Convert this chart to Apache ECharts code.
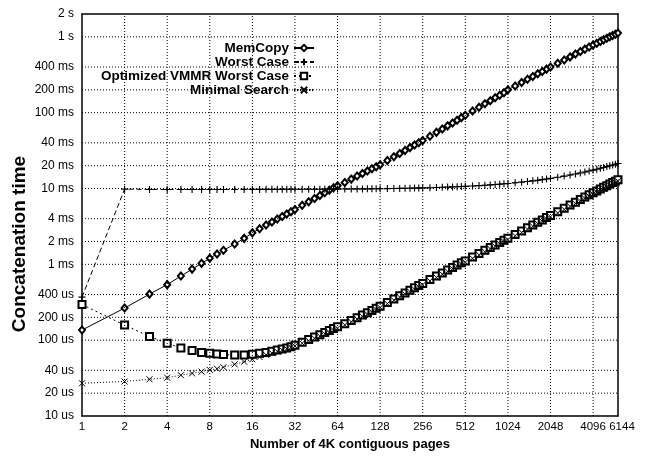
<!DOCTYPE html>
<html><head><meta charset="utf-8">
<script src="https://cdn.jsdelivr.net/npm/echarts@6/dist/echarts.min.js"></script>
<style>html,body{margin:0;padding:0;background:#fff}#c{width:652px;height:458px}</style>
</head><body><div id="c"></div>
<script>
const pages = [1,2,3,4,5,6,7,8,9,10,12,14,16,18,20,22,24,26,28,30,32,
  36,40,44,48,52,56,60,64,72,80,88,96,104,112,120,128,
  144,160,176,192,208,224,240,256,288,320,352,384,416,448,480,512,
  576,640,704,768,832,896,960,1024,1152,1280,1408,1536,1664,1792,1920,2048,
  2304,2560,2816,3072,3328,3584,3840,4096,4352,4608,4864,5120,5376,5632,5888,6144];

// times in microseconds
const memCopy = [136,265,405,540,700,865,1030,1200,1370,1530,1850,2200,2600,2950,3300,3620,3950,4280,4600,4950,5300,
  6000,6700,7400,8100,8800,9500,10200,10900,12000,13300,14600,15800,17000,18200,19400,20600,
  23400,26200,29000,31800,34600,37400,40200,43000,49000,55000,61000,67000,73000,79500,86000,92500,
  105000,118000,131000,144000,157000,170000,183000,200000,225000,250000,275000,300000,325000,350000,375000,400000,
  448000,496000,544000,592000,640000,688000,736000,780000,825000,868000,912000,955000,1000000,1040000,1080000,1120000];

const worstCase = [370,9800,9710,9710,9710,9710,9715,9715,9720,9720,9720,9725,9730,9735,9740,9740,9745,9750,9755,9755,9760,
  9770,9775,9785,9790,9800,9805,9815,9820,9835,9850,9865,9880,9900,9915,9930,9945,
  9975,10005,10035,10065,10095,10125,10155,10185,10245,10310,10370,10430,10490,10550,10610,10675,
  10795,10915,11040,11160,11280,11400,11525,11645,11890,12130,12375,12620,12860,13105,13350,13590,
  14080,14565,15050,15535,16025,16510,16995,17480,17970,18455,18940,19430,19915,20400,20885,21375];

const optVmmrWorst = [295,158,112,91,79,73,69,67,65.5,64.5,63.5,63.5,65,67,69,71.5,74,76.5,79,82,86,
  94,102,110,118,126,134,142,150,165,182,198,214,230,247,264,281,
  315,350,385,420,455,490,525,560,630,700,770,840,910,980,1050,1110,
  1250,1390,1530,1670,1800,1940,2080,2200,2480,2750,3030,3300,3580,3850,4130,4400,
  4950,5500,6050,6600,7150,7700,8250,8800,9300,9850,10400,10900,11450,12000,12500,13000];

const minimalSearch = [27,28.5,30.5,32,34.5,36.5,38.5,40.5,42,44,48,52,56,60,64,67.5,71,74,77,80.5,84,
  91,98,106,113,121,128,136,144,159,175,190,206,221,237,253,270,
  303,337,370,404,437,471,505,538,605,672,740,808,875,942,1010,1068,
  1200,1335,1470,1605,1730,1865,2000,2115,2385,2640,2910,3170,3440,3700,3970,4230,
  4755,5285,5810,6340,6870,7400,7930,8460,8940,9470,10000,10480,11010,11540,12020,12500];

const xTicks = [1,2,4,8,16,32,64,128,256,512,1024,2048,4096,6144];
const yTicks = [10,20,40,100,200,400,1000,2000,4000,10000,20000,40000,100000,200000,400000,1000000,2000000];
const yTickLabels = ['10 us','20 us','40 us','100 us','200 us','400 us','1 ms','2 ms','4 ms','10 ms','20 ms','40 ms','100 ms','200 ms','400 ms','1 s','2 s'];

const seriesNames = ['MemCopy','Worst Case','Optimized VMMR Worst Case','Minimal Search'];

const pair = arr => pages.map((p, i) => [p, arr[i]]);
const FONT = 'Liberation Sans, Arial, sans-serif';

const chart = echarts.init(document.getElementById('c'), null, {renderer: 'canvas'});

const X_MIN = xTicks[0], X_MAX = xTicks[xTicks.length - 1];
const Y_MIN = yTicks[0], Y_MAX = yTicks[yTicks.length - 1];
const baseX = {type: 'log', logBase: 2, min: X_MIN, max: X_MAX, gridIndex: 0};
const baseY = {type: 'log', logBase: 10, min: Y_MIN, max: Y_MAX, gridIndex: 0};

// grid lines as plain two-point line series through the axes' scales (drawn on top layer)
const gridSeries = [];
xTicks.slice(1, -1).forEach(v => gridSeries.push({
  name: 'gx' + v, type: 'line', data: [[v, Y_MIN], [v, Y_MAX]], z: 10, zlevel: 0,
  showSymbol: false, symbolSize: 0, color: '#000',
  lineStyle: {color: '#000', width: 1, type: [1, 2], opacity: 1}
}));
yTicks.slice(1, -1).forEach(v => gridSeries.push({
  name: 'gy' + v, type: 'line', data: [[X_MIN, v], [X_MAX, v]], z: 10, zlevel: 0,
  showSymbol: false, symbolSize: 0, color: '#000',
  lineStyle: {color: '#000', width: 1, type: [1, 2], opacity: 1}
}));

const xLabelStyle = {fontFamily: FONT, fontSize: 11.5, color: '#000', margin: 5};

chart.setOption({
  animation: false,
  backgroundColor: '#fff',
  textStyle: {fontFamily: FONT},
  grid: {left: 82, right: 34, top: 14, bottom: 42, show: false},
  tooltip: {show: false},
  legend: {
    orient: 'vertical', align: 'right', right: 337, top: 41, z: 20,
    itemWidth: 20, itemHeight: 8, itemGap: 0,
    padding: 0,
    textStyle: {fontFamily: FONT, fontWeight: 'bold', fontSize: 13.5, lineHeight: 13.5, color: '#000'},
    data: seriesNames
  },
  xAxis: [
    Object.assign({}, baseX, {
      position: 'bottom',
      name: 'Number of 4K contiguous pages', nameLocation: 'middle', nameGap: 21,
      nameTextStyle: {fontFamily: FONT, fontWeight: 'bold', fontSize: 13, color: '#000'},
      axisLine: {show: true, lineStyle: {color: '#000', width: 1.5}},
      axisTick: {show: false},
      axisLabel: Object.assign({customValues: xTicks.slice(0, -1), interval: 0, showMinLabel: true, showMaxLabel: true,
        formatter: v => String(Math.round(v))}, xLabelStyle),
      splitLine: {show: false}
    }),
    Object.assign({}, baseX, {
      position: 'top',
      axisLine: {show: true, lineStyle: {color: '#000', width: 1.5}},
      axisTick: {show: false},
      axisLabel: {show: false},
      splitLine: {show: false}
    }),
    Object.assign({}, baseX, {
      position: 'bottom', offset: 0,
      axisLine: {show: false},
      axisTick: {show: false},
      axisLabel: Object.assign({customValues: xTicks.slice(-1), interval: 0, showMinLabel: false, showMaxLabel: true,
        padding: [0, 0, 0, 8], formatter: v => String(Math.round(v))}, xLabelStyle),
      splitLine: {show: false}
    })
  ],
  yAxis: [
    Object.assign({}, baseY, {
      position: 'left',
      axisLine: {show: true, lineStyle: {color: '#000', width: 1.5}},
      axisTick: {show: false},
      axisLabel: {customValues: yTicks, interval: 0, showMinLabel: true, showMaxLabel: true,
        fontFamily: FONT, fontSize: 12, color: '#000', margin: 8,
        formatter: v => {
          let best = 0, bd = Infinity;
          yTicks.forEach((t, i) => { const d = Math.abs(Math.log(t) - Math.log(v)); if (d < bd) { bd = d; best = i; } });
          return yTickLabels[best];
        }},
      splitLine: {show: false}
    }),
    Object.assign({}, baseY, {
      position: 'right',
      axisLine: {show: true, lineStyle: {color: '#000', width: 1.5}},
      axisTick: {show: false},
      axisLabel: {show: false},
      splitLine: {show: false}
    })
  ],
  graphic: [{
    type: 'text', x: 20, y: 244, rotation: Math.PI / 2,
    style: {text: 'Concatenation time', fontFamily: FONT, fontWeight: 'bold', fontSize: 19, fill: '#000',
      align: 'center', verticalAlign: 'middle'}
  }],
  series: gridSeries.concat([
    {
      name: seriesNames[0], type: 'line', data: pair(memCopy), color: '#000', z: 5,
      symbol: 'emptyDiamond', symbolSize: [6, 7], showAllSymbol: true,
      lineStyle: {color: '#000', width: 1, type: 'solid'},
      itemStyle: {color: '#000', borderColor: '#000', borderWidth: 1}
    },
    {
      name: seriesNames[1], type: 'line', data: pair(worstCase), color: '#000', z: 5,
      symbol: 'path://M5,0L5,10M0,5L10,5', symbolSize: 7, showAllSymbol: true,
      lineStyle: {color: '#000', width: 1, type: [5, 3]},
      itemStyle: {color: '#000', borderColor: '#000', borderWidth: 1.1}
    },
    {
      name: seriesNames[2], type: 'line', data: pair(optVmmrWorst), color: '#000', z: 5,
      symbol: 'emptyRect', symbolSize: 7, showAllSymbol: true,
      lineStyle: {color: '#000', width: 1, type: [2, 3]},
      itemStyle: {color: '#000', borderColor: '#000', borderWidth: 1}
    },
    {
      name: seriesNames[3], type: 'line', data: pair(minimalSearch), color: '#000', z: 5,
      symbol: 'path://M0,0L10,10M10,0L0,10', symbolSize: 6, showAllSymbol: true,
      lineStyle: {color: '#000', width: 1, type: [1, 2]},
      itemStyle: {color: '#000', borderColor: '#000', borderWidth: 1}
    }
  ])
});
</script>
</body></html>
